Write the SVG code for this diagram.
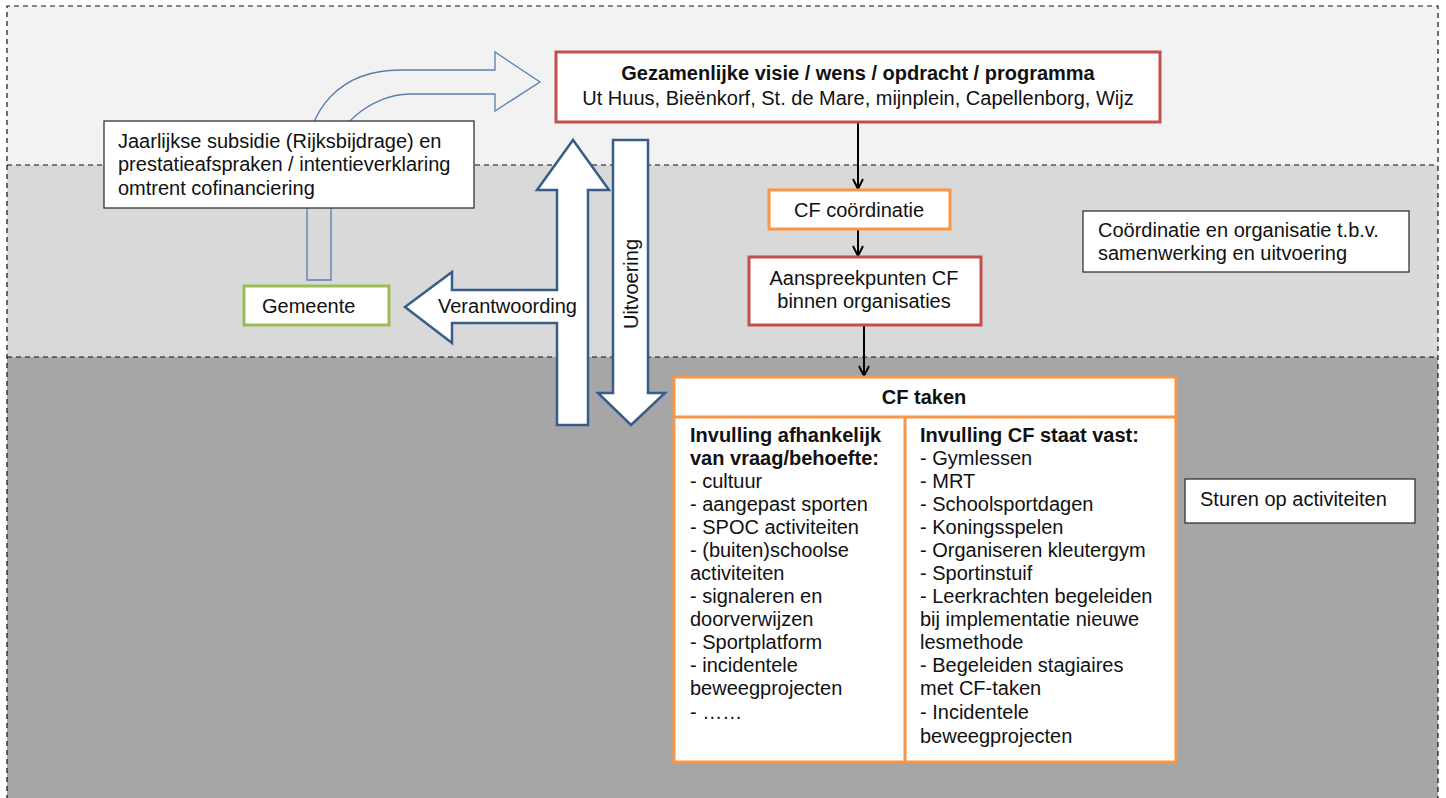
<svg xmlns="http://www.w3.org/2000/svg" width="1446" height="798" viewBox="0 0 1446 798">
<defs>
<style>
text{font-family:"Liberation Sans",Arial,sans-serif;font-size:20px;fill:#111;}
.b{font-weight:bold;}
.m{text-anchor:middle;}
.box{fill:#fff;stroke-width:3;}
.red{stroke:#c0504d;}
.org{stroke:#f79646;}
.grn{stroke:#9bbb59;}
.plain{fill:#fff;stroke:#333;stroke-width:1.3;}
.dash{stroke:#111;stroke-width:1.2;stroke-dasharray:5 4;fill:none;}
.conn{stroke:#000;stroke-width:2;fill:none;marker-end:url(#ah);}
.bigarrow{fill:#fff;stroke:#385d8a;stroke-width:2.5;stroke-linejoin:miter;}
</style>
<marker id="ah" viewBox="0 0 12 12" refX="11" refY="6" markerWidth="6" markerHeight="6" orient="auto" markerUnits="strokeWidth">
<path d="M1,1 L11,6 L1,11" fill="none" stroke="#000" stroke-width="2"/>
</marker>
</defs>
<g id="background">
<rect x="7" y="6" width="1431" height="159" fill="#f2f2f2"/>
<rect x="7" y="165" width="1431" height="192" fill="#d9d9d9"/>
<rect x="7" y="357" width="1431" height="441" fill="#a6a6a6"/>
<path class="dash" d="M7,800 L7,6 L1438,6 L1438,800"/>
<line class="dash" x1="7" y1="165" x2="1438" y2="165"/>
<line class="dash" x1="7" y1="357" x2="1438" y2="357"/>
</g>
<g id="curved-arrow">
<path d="M307,280 L307,160 C307,110 340,70 400,70 L495,70 L495,52 L540,82 L495,111 L495,94 L410,94 C370,94 331,130 331,160 L331,280 Z" fill="none" stroke="#5a7fae" stroke-width="1.3"/>
</g>
<g id="verantwoording-arrow">
<path class="bigarrow" d="M557,425 L557,323 L452,323 L452,343 L405,307 L452,272 L452,290 L557,290 L557,190 L537,190 L573,140 L609,190 L588,190 L588,425 Z"/>
<text x="438" y="313">Verantwoording</text>
</g>
<g id="uitvoering-arrow">
<path class="bigarrow" d="M613,140 L648,140 L648,393 L665,393 L631,425 L598,393 L613,393 Z"/>
<text class="m" transform="translate(638,284) rotate(-90)">Uitvoering</text>
</g>
<g id="connectors">
<line class="conn" x1="858" y1="122" x2="858" y2="189"/>
<line class="conn" x1="858" y1="229" x2="858" y2="256"/>
<line class="conn" x1="864" y1="325" x2="864" y2="376"/>
</g>
<g id="programma">
<rect class="box red" x="556" y="52" width="604" height="70"/>
<text class="b m" x="858" y="80">Gezamenlijke visie / wens / opdracht / programma</text>
<text class="m" x="858" y="105">Ut Huus, Bieënkorf, St. de Mare, mijnplein, Capellenborg, Wijz</text>
</g>
<g id="jaarlijkse">
<rect class="plain" x="104" y="121" width="370" height="87"/>
<text x="118" y="148">Jaarlijkse subsidie (Rijksbijdrage) en</text>
<text x="118" y="171">prestatieafspraken / intentieverklaring</text>
<text x="118" y="195">omtrent cofinanciering</text>
</g>
<g id="gemeente">
<rect class="box grn" x="244" y="286" width="145" height="39"/>
<text x="262" y="313">Gemeente</text>
</g>
<g id="cf-coordinatie">
<rect class="box org" x="769" y="190" width="181" height="39"/>
<text class="m" x="859" y="217">CF coördinatie</text>
</g>
<g id="aanspreekpunten">
<rect class="box red" x="749" y="257" width="232" height="68"/>
<text class="m" x="864" y="285">Aanspreekpunten CF</text>
<text class="m" x="864" y="308">binnen organisaties</text>
</g>
<g id="cf-taken">
<rect class="box org" x="674" y="377" width="502" height="385"/>
<line class="org" stroke-width="3" x1="674" y1="417" x2="1176" y2="417"/>
<line class="org" stroke-width="3" x1="905" y1="417" x2="905" y2="762"/>
<text class="b m" x="924" y="404">CF taken</text>
<text x="690" y="442" class="b">Invulling afhankelijk</text>
<text x="690" y="465" class="b">van vraag/behoefte:</text>
<text x="690" y="488">- cultuur</text>
<text x="690" y="511">- aangepast sporten</text>
<text x="690" y="534">- SPOC activiteiten</text>
<text x="690" y="557">- (buiten)schoolse</text>
<text x="690" y="580">activiteiten</text>
<text x="690" y="603">- signaleren en</text>
<text x="690" y="626">doorverwijzen</text>
<text x="690" y="649">- Sportplatform</text>
<text x="690" y="672">- incidentele</text>
<text x="690" y="695">beweegprojecten</text>
<text x="690" y="719">- ……</text>
<text x="920" y="442" class="b">Invulling CF staat vast:</text>
<text x="920" y="465">- Gymlessen</text>
<text x="920" y="488">- MRT</text>
<text x="920" y="511">- Schoolsportdagen</text>
<text x="920" y="534">- Koningsspelen</text>
<text x="920" y="557">- Organiseren kleutergym</text>
<text x="920" y="580">- Sportinstuif</text>
<text x="920" y="603">- Leerkrachten begeleiden</text>
<text x="920" y="626">bij implementatie nieuwe</text>
<text x="920" y="649">lesmethode</text>
<text x="920" y="672">- Begeleiden stagiaires</text>
<text x="920" y="695">met CF-taken</text>
<text x="920" y="719">- Incidentele</text>
<text x="920" y="743">beweegprojecten</text>
</g>
<g id="coordinatie-note">
<rect class="plain" x="1083" y="211" width="326" height="61"/>
<text x="1098" y="237">Coördinatie en organisatie t.b.v.</text>
<text x="1098" y="260">samenwerking en uitvoering</text>
</g>
<g id="sturen-note">
<rect class="plain" x="1185" y="479" width="230" height="44"/>
<text x="1200" y="506">Sturen op activiteiten</text>
</g>
</svg>
